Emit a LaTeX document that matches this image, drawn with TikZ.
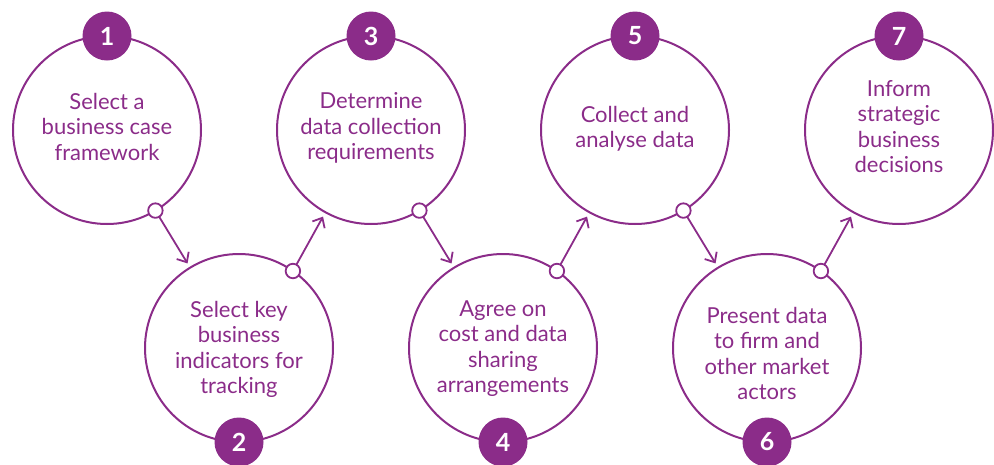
\documentclass[tikz,border=0pt]{standalone}
\usepackage{fontspec}
\setmainfont{Lato}
\usetikzlibrary{arrows.meta,calc}
\definecolor{vio}{RGB}{139,44,137}
\begin{document}
\begin{tikzpicture}[x=1pt,y=-1pt,
  bigc/.style={circle,draw=vio,line width=2pt,minimum size=188pt,inner sep=0pt,outer sep=0pt},
  badge/.style={circle,fill=vio,minimum size=49pt,inner sep=0pt,text=white,font=\fontsize{25}{25}\selectfont\bfseries},
  ring/.style={circle,draw=vio,fill=white,line width=1.8pt,minimum size=14.5pt,inner sep=0pt,outer sep=0pt},
  lbl/.style={anchor=north,align=center,inner sep=0pt,text=vio,font=\fontsize{22}{25.5}\selectfont},
  arr/.style={draw=vio,line width=1.8pt,-{Straight Barb[length=8pt,width=14pt]}}
]
\useasboundingbox (0,0) rectangle (994,464);
% circles
\node[bigc] (c1) at (107,130) {};
\node[bigc] (c2) at (239,348) {};
\node[bigc] (c3) at (371,130) {};
\node[bigc] (c4) at (503,348) {};
\node[bigc] (c5) at (635,130) {};
\node[bigc] (c6) at (767,348) {};
\node[bigc] (c7) at (899,130) {};
% labels
\node[lbl] (l1) at (107,92.7) {Select a\\business case\\framework};
\node[lbl] (l2) at (239,300.7) {Select key\\business\\indicators for\\tracking};
\node[lbl] (l3) at (371,92.7) {Determine\\data collection\\requirements};
\node[lbl] (l4) at (503,300.2) {Agree on\\cost and data\\sharing\\arrangements};
\node[lbl] (l5) at (635,105.7) {Collect and\\analyse data};
\node[lbl] (l6) at (767,307) {Present data\\to firm and\\other market\\actors};
\node[lbl] (l7) at (899,80.2) {Inform\\strategic\\business\\decisions};
% rings
\node[ring] (r1) at (c1.-59) {};
\node[ring] (r2) at (c2.55) {};
\node[ring] (r3) at (c3.-59) {};
\node[ring] (r4) at (c4.55) {};
\node[ring] (r5) at (c5.-59) {};
\node[ring] (r6) at (c6.55) {};
% arrow tips
\coordinate (t1) at ($(c2.center)!99pt!(r1)$);
\coordinate (t2) at ($(c3.center)!99pt!(r2)$);
\coordinate (t3) at ($(c4.center)!99pt!(r3)$);
\coordinate (t4) at ($(c5.center)!99pt!(r4)$);
\coordinate (t5) at ($(c6.center)!99pt!(r5)$);
\coordinate (t6) at ($(c7.center)!99pt!(r6)$);
\draw[arr] (r1) -- (t1);
\draw[arr] (r2) -- (t2);
\draw[arr] (r3) -- (t3);
\draw[arr] (r4) -- (t4);
\draw[arr] (r5) -- (t5);
\draw[arr] (r6) -- (t6);
% badges
\node[badge] (b1) at (c1.north) {1};
\node[badge] (b2) at (c2.south) {2};
\node[badge] (b3) at (c3.north) {3};
\node[badge] (b4) at (c4.south) {4};
\node[badge] (b5) at (c5.north) {5};
\node[badge] (b6) at (c6.south) {6};
\node[badge] (b7) at (c7.north) {7};
\end{tikzpicture}
\end{document}
